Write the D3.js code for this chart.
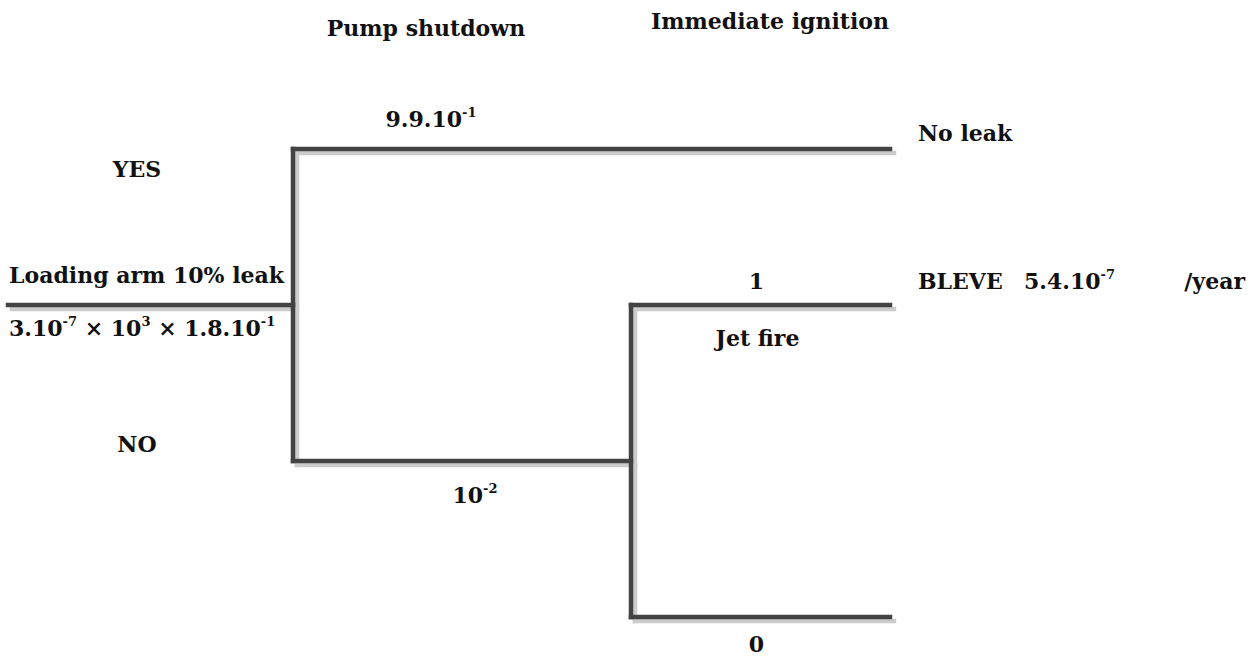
<!DOCTYPE html>
<html>
<head>
<meta charset="utf-8">
<script src="https://cdn.jsdelivr.net/npm/d3@7"></script>
<style>
  body { margin: 0; background: #fff; }
  text { font-family: "DejaVu Serif", serif; font-weight: bold; fill: #111; }
</style>
</head>
<body>
<svg id="tree"></svg>
<script>
// event tree values ('^' marks a superscript)
const stageTitles = ['Pump shutdown', 'Immediate ignition']
const initiatingEvent = 'Loading arm 10% leak'
const initiatingFreq = '3.10^-7 × 10^3 × 1.8.10^-1'
const pumpAnswers = ['YES', 'NO']
const pumpProbs = ['9.9.10^-1', '10^-2']
const ignitionProbs = ['1', '0']
const ignitionNotes = ['Jet fire', '']
const outcomes = ['No leak', 'BLEVE', '']
const outcomeFreqs = ['', '5.4.10^-7', '']
const freqUnit = '/year'

let svgWidth = 1257, svgHeight = 657
let svg = d3.select('#tree').attr('width', svgWidth).attr('height', svgHeight)

// build hierarchy from the arrays
const treeData = {
  name: 'pump',
  children: [
    { answer: pumpAnswers[0], prob: pumpProbs[0], outcome: outcomes[0], freq: outcomeFreqs[0] },
    { answer: pumpAnswers[1], prob: pumpProbs[1],
      children: ignitionProbs.map((p, i) => ({ prob: p, note: ignitionNotes[i], outcome: outcomes[i + 1], freq: outcomeFreqs[i + 1] })) }
  ]
}
let root = d3.hierarchy(treeData)
d3.tree().nodeSize([1, 1])(root)

let xStart = 8
let stageX = d3.scaleLinear().domain([0, 1, 2]).range([293, 631, 890])
let rowY = d3.scaleLinear().domain([-0.5, 1]).range([149, 617])

const px = d => d.children ? stageX(d.depth) : stageX(2)
const py = d => rowY(d.x)

// line segments
let segs = [[xStart, py(root), px(root), py(root)]]
root.descendants().forEach(d => {
  if (d.parent) segs.push([px(d.parent), py(d), px(d), py(d)])
  if (d.children) {
    let ys = d.children.map(py)
    segs.push([px(d), d3.min(ys), px(d), d3.max(ys)])
  }
})
const segPath = s => `M${s[0]},${s[1]}L${s[2]},${s[3]}`

svg.append('g').attr('transform', 'translate(4,4)')
  .selectAll('path').data(segs).enter().append('path')
  .attr('d', segPath).attr('stroke', '#cccccc').attr('stroke-width', 4.5)
  .attr('stroke-linecap', 'square').attr('fill', 'none')
svg.append('g')
  .selectAll('path').data(segs).enter().append('path')
  .attr('d', segPath).attr('stroke', '#434343').attr('stroke-width', 4.5)
  .attr('stroke-linecap', 'square').attr('fill', 'none')

// text with superscripts
function richText(x, y, str, anchor) {
  let t = svg.append('text').attr('x', x).attr('y', y)
    .attr('text-anchor', anchor || 'start').style('font-size', '22px')
  let parts = str.split(/(\^\S+)/).filter(p => p.length)
  let raised = false
  parts.forEach(p => {
    if (p[0] == '^') {
      t.append('tspan').text(p.slice(1)).attr('dy', -10).style('font-size', '13px')
      raised = true
    } else {
      t.append('tspan').text(p).attr('dy', raised ? 10 : 0)
      raised = false
    }
  })
  return t
}

// column headings
richText(stageX(0) + 133, 36, stageTitles[0], 'middle')
richText(stageX(1) + 139, 29, stageTitles[1], 'middle')

// initiating event
richText(xStart + 1, py(root) - 22, initiatingEvent)
richText(xStart + 1, py(root) + 31, initiatingFreq)

// pump shutdown branches
let probDx = [138, 182], probDy = [-22, 42], ansDy = [28, -9]
root.children.forEach((c, i) => {
  richText(137, py(c) + ansDy[i], c.data.answer, 'middle')
  richText(px(root) + probDx[i], py(c) + probDy[i], c.data.prob, 'middle')
})

// ignition branches
let ign = root.children[1]
let ignProbDy = [-16, 35]
ign.children.forEach((c, i) => {
  let mid = (px(ign) + px(c)) / 2
  richText(mid - 4, py(c) + ignProbDy[i], c.data.prob, 'middle')
  if (c.data.note) richText(mid - 3, py(c) + 41, c.data.note, 'middle')
})

// outcomes
root.leaves().forEach(d => {
  if (!d.data.outcome) return
  let dy = d.depth == 1 ? -8 : -16
  richText(stageX(2) + 28, py(d) + dy, d.data.outcome)
  if (d.data.freq) {
    richText(stageX(2) + 134, py(d) + dy, d.data.freq)
    richText(svgWidth - 12, py(d) + dy, freqUnit, 'end')
  }
})
</script>
</body>
</html>
